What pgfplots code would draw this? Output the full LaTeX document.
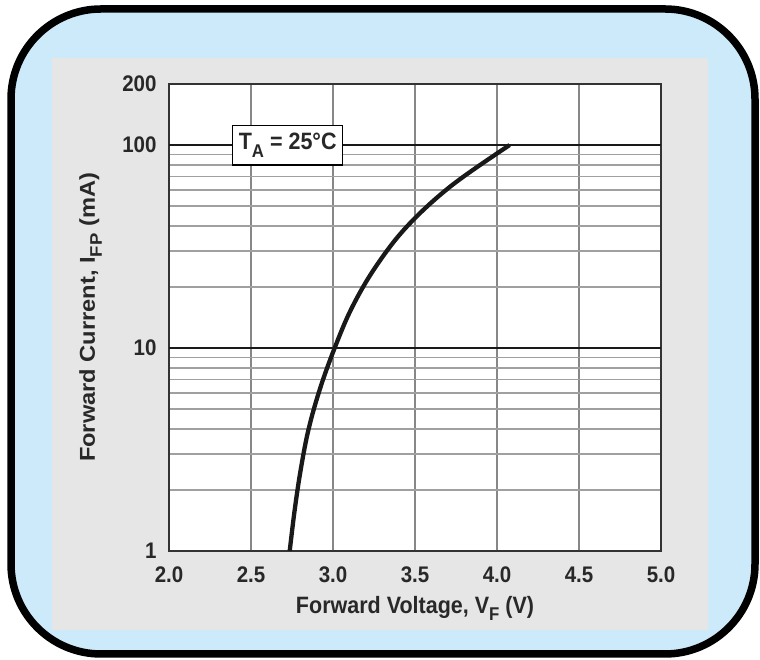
\documentclass[border=0pt]{standalone}
\usepackage{fontspec}
\setmainfont{Liberation Sans}
\usepackage{graphicx}
\usepackage{pgfplots}
\pgfplotsset{compat=1.18}
\definecolor{framefill}{RGB}{204,234,250}
\definecolor{panel}{RGB}{230,230,230}
\definecolor{gridgray}{RGB}{160,160,160}
\definecolor{vgrid}{RGB}{135,135,135}
\definecolor{txt}{RGB}{40,40,40}
\newcommand{\sbs}[1]{\raisebox{-0.32em}{\scalebox{0.78}{#1}}}
\begin{document}
\begin{tikzpicture}
\useasboundingbox (0pt,0pt) rectangle (760pt,660pt);
\draw[line width=7.5pt, fill=framefill, rounded corners=90pt] (11pt,6pt) rectangle (755pt,651pt);
\fill[panel] (52pt,30pt) rectangle (708pt,602pt);
\begin{axis}[
 at={(169pt,109pt)}, anchor=south west,
 scale only axis, width=492pt, height=467pt,
 xmin=2, xmax=5, ymin=1, ymax=200, ymode=log,
 xtick={2,2.5,3,3.5,4,4.5,5},
 xticklabels={2.0,2.5,3.0,3.5,4.0,4.5,5.0},
 ytick={1,10,100,200}, yticklabels={1,10,100,200},
 minor ytick={2,3,4,5,6,7,8,9,20,30,40,50,60,70,80,90},
 xmajorgrids, yminorgrids,
 major grid style={line width=1.6pt, vgrid},
 minor grid style={line width=1.6pt, gridgray},
 extra y ticks={10,100}, extra y tick labels={},
 extra y tick style={grid=major, major grid style={line width=1.6pt, black!90}},
 major tick length=0pt, minor tick length=0pt,
 axis line style={line width=1.6pt, black!80},
 axis background/.style={fill=white},
 tick label style={font=\fontsize{20.5}{24}\selectfont\bfseries, text=txt, yscale=1.1},
 /pgf/number format/assume math mode=true,
 xticklabel style={yshift=-11pt},
 yticklabel style={xshift=-9pt},
 xlabel={Forward Voltage, V\sbs{F} (V)},
 ylabel={Forward Current, I\sbs{FP} (mA)},
 label style={font=\fontsize{21.5}{24}\selectfont\bfseries, text=txt},
 xlabel style={at={(axis description cs:0.5,-0.1328)}, anchor=base, yscale=1.1},
 ylabel style={at={(axis description cs:-0.1504,0.5)}, anchor=base, xscale=1.1},
]
\addplot[smooth, tension=0.6, line width=4.3pt, black!90] coordinates {
 (2.736,1) (2.766,1.585) (2.803,2.512) (2.851,3.981) (2.921,6.310)
 (3.010,10) (3.116,15.85) (3.260,25.12) (3.452,39.81) (3.722,63.10) (4.077,100)
};
\node[draw, fill=white, line width=1.4pt, inner sep=0pt, minimum width=110pt, minimum height=36pt, font=\fontsize{21.5}{24}\selectfont\bfseries, text=txt, yscale=1.1] at (axis cs:2.724,100) {T\sbs{A} = 25°C};
\end{axis}
\end{tikzpicture}
\end{document}
